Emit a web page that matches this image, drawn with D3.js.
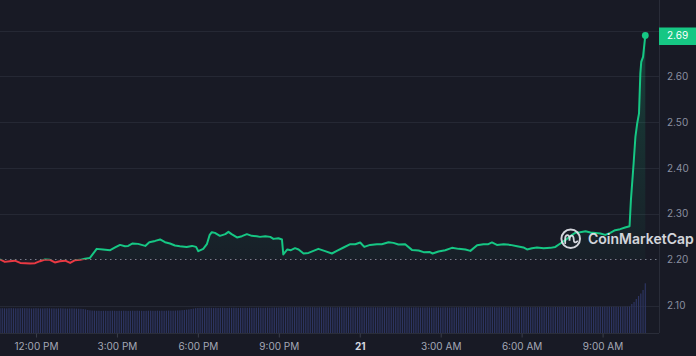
<!DOCTYPE html>
<html><head><meta charset="utf-8">
<script src="https://cdn.jsdelivr.net/npm/d3@7"></script>
<style>html,body{margin:0;padding:0;background:#181a25;} svg{display:block}</style>
</head><body><svg id="c" width="696" height="356"></svg>
<script>
// ---- data ----
const times = ["10:40","10:51","11:02","11:13","11:25","11:47","11:58","12:09","12:20","12:31","12:42","12:53","13:05","13:16","13:27","13:38","13:49","14:00","14:15","14:29","14:45","14:56","15:07","15:18","15:25","15:35","15:47","16:03","16:12","16:25","16:36","16:47","16:58","17:09","17:20","17:35","17:47","17:56","18:01","18:12","18:20","18:26","18:31","18:38","18:49","19:01","19:08","19:15","19:27","19:38","19:49","20:00","20:11","20:18","20:30","20:41","20:48","20:59","21:07","21:10","21:19","21:27","21:36","21:44","21:55","22:06","22:17","22:28","22:43","22:58","23:09","23:24","23:39","23:50","00:01","00:10","00:23","00:38","00:49","01:04","01:15","01:26","01:41","01:56","02:11","02:22","02:35","02:42","02:55","03:10","03:25","03:40","03:55","04:06","04:21","04:35","04:46","04:54","05:05","05:20","05:35","05:50","06:04","06:12","06:23","06:34","06:49","07:04","07:15","07:26","07:37","07:48","07:59","08:10","08:22","08:33","08:44","08:55","09:06","09:17","09:28","09:39","09:50","10:00","10:03","10:09","10:13","10:17","10:21","10:24","10:26","10:30","10:35"];
const prices = [2.2004,2.1952,2.1967,2.1978,2.1930,2.1917,2.1924,2.1967,2.2004,2.1996,2.1939,2.1967,2.1978,2.1930,2.1989,2.1996,2.2022,2.2039,2.2236,2.2223,2.2207,2.2266,2.2323,2.2295,2.2301,2.2354,2.2345,2.2301,2.2382,2.2410,2.2441,2.2382,2.2354,2.2310,2.2295,2.2279,2.2301,2.2279,2.2186,2.2236,2.2338,2.2535,2.2600,2.2585,2.2520,2.2557,2.2607,2.2557,2.2485,2.2513,2.2557,2.2520,2.2513,2.2498,2.2513,2.2498,2.2454,2.2469,2.2441,2.2114,2.2223,2.2207,2.2251,2.2223,2.2135,2.2148,2.2192,2.2236,2.2186,2.2135,2.2192,2.2266,2.2338,2.2338,2.2376,2.2279,2.2323,2.2338,2.2338,2.2382,2.2367,2.2332,2.2338,2.2214,2.2201,2.2164,2.2170,2.2135,2.2179,2.2207,2.2258,2.2236,2.2223,2.2192,2.2317,2.2338,2.2338,2.2376,2.2323,2.2338,2.2323,2.2295,2.2266,2.2223,2.2251,2.2266,2.2251,2.2258,2.2279,2.2354,2.2426,2.2513,2.2585,2.2600,2.2622,2.2594,2.2585,2.2572,2.2541,2.2585,2.2644,2.2666,2.2703,2.2731,2.3299,2.4100,2.4681,2.4974,2.5192,2.6066,2.6319,2.6428,2.6895];
// 24h volume, one bar every 5 minutes from 10:40 (millions)
const volumes = [
2.47,2.48,2.47,2.46,2.48,2.49,2.48,2.47,2.47,2.48,2.49,2.48,
2.48,2.47,2.46,2.47,2.48,2.47,2.46,2.46,2.47,2.48,2.47,2.46,
2.46,2.45,2.46,2.47,2.46,2.45,2.44,2.45,2.46,2.45,2.44,2.43,
2.42,2.40,2.36,2.30,2.26,2.24,2.23,2.22,2.22,2.21,2.22,2.22,
2.21,2.22,2.23,2.22,2.21,2.22,2.22,2.23,2.22,2.21,2.22,2.23,
2.22,2.23,2.22,2.22,2.21,2.22,2.23,2.23,2.22,2.22,2.23,2.22,
2.23,2.22,2.23,2.24,2.23,2.23,2.24,2.25,2.26,2.28,2.30,2.33,
2.36,2.40,2.44,2.48,2.50,2.51,2.52,2.53,2.52,2.53,2.52,2.51,
2.52,2.51,2.52,2.53,2.52,2.51,2.52,2.52,2.53,2.52,2.51,2.52,
2.52,2.53,2.52,2.53,2.52,2.52,2.53,2.54,2.53,2.52,2.53,2.54,
2.53,2.54,2.55,2.54,2.55,2.56,2.55,2.56,2.57,2.58,2.57,2.58,
2.57,2.58,2.57,2.56,2.57,2.58,2.57,2.58,2.57,2.56,2.57,2.58,
2.57,2.58,2.57,2.58,2.57,2.56,2.57,2.58,2.57,2.56,2.57,2.57,
2.56,2.57,2.56,2.57,2.58,2.57,2.56,2.57,2.56,2.57,2.57,2.56,
2.57,2.56,2.57,2.58,2.57,2.56,2.56,2.57,2.58,2.57,2.56,2.57,
2.56,2.57,2.56,2.55,2.56,2.57,2.56,2.55,2.56,2.56,2.57,2.56,
2.55,2.56,2.57,2.56,2.55,2.56,2.57,2.56,2.55,2.56,2.56,2.57,
2.57,2.58,2.57,2.56,2.57,2.58,2.57,2.58,2.57,2.56,2.57,2.58,
2.58,2.57,2.58,2.59,2.58,2.57,2.58,2.58,2.59,2.58,2.57,2.58,
2.58,2.59,2.58,2.57,2.58,2.59,2.58,2.59,2.58,2.58,2.59,2.58,
2.59,2.58,2.59,2.60,2.59,2.58,2.59,2.60,2.59,2.60,2.59,2.60,
2.60,2.61,2.60,2.61,2.62,2.61,2.60,2.61,2.62,2.61,2.62,2.61,
2.62,2.61,2.62,2.63,2.62,2.63,2.62,2.63,2.62,2.63,2.63,2.62,
2.63,2.63,2.64,2.64,2.65,2.90,3.10,3.40,3.70,3.95,4.30,4.97];
const yTicks = [2.10, 2.20, 2.30, 2.40, 2.50, 2.60, 2.70];
const xTickHours = ["12:00","15:00","18:00","21:00","00:00","03:00","06:00","09:00"];
const lastPriceLabel = "2.69";
const watermark = "CoinMarketCap";

// ---- helpers ----
function toDates(ts) {
  let day = 20, prev = "";
  return ts.map(t => {
    if (prev && t < prev) day++;
    prev = t;
    const [h, m] = t.split(":").map(Number);
    return new Date(2024, 10, day, h, m);
  });
}
const dates = toDates(times);
const series = dates.map((d, i) => ({ date: d, value: prices[i] }));
const volSeries = volumes.map((v, i) => ({ date: new Date(+dates[0] + i * 5 * 60000), value: v }));
const tickDates = toDates(["10:40"].concat(xTickHours)).slice(1);
const baseValue = prices[0];

const GREEN = "#16c784", RED = "#ea3943";
const plotRight = 659, plotBottom = 333;

const svg = d3.select("#c");
svg.append("rect").attr("width", 696).attr("height", 356).attr("fill", "#181a25");

const x = d3.scaleTime().domain([dates[0], dates[dates.length - 1]]).range([0, 645.3]);
const y = d3.scaleLinear().domain([2.1, 2.7]).range([305.5, 30.6]);
const yv = d3.scaleLinear().domain([0, 5]).range([plotBottom, 283]);

const defs = svg.append("defs");
const baseY = y(baseValue);
defs.append("clipPath").attr("id", "above").append("rect")
  .attr("x", 0).attr("y", 0).attr("width", plotRight).attr("height", baseY);
defs.append("clipPath").attr("id", "below").append("rect")
  .attr("x", 0).attr("y", baseY).attr("width", plotRight).attr("height", plotBottom - baseY);
const gg = defs.append("linearGradient").attr("id", "gG").attr("gradientUnits", "userSpaceOnUse")
  .attr("x1", 0).attr("x2", 0).attr("y1", y(2.7)).attr("y2", baseY);
gg.append("stop").attr("offset", 0).attr("stop-color", GREEN).attr("stop-opacity", 0.22);
gg.append("stop").attr("offset", 1).attr("stop-color", GREEN).attr("stop-opacity", 0.03);
const gr = defs.append("linearGradient").attr("id", "gR").attr("gradientUnits", "userSpaceOnUse")
  .attr("x1", 0).attr("x2", 0).attr("y1", baseY).attr("y2", baseY + 10);
gr.append("stop").attr("offset", 0).attr("stop-color", RED).attr("stop-opacity", 0.04);
gr.append("stop").attr("offset", 1).attr("stop-color", RED).attr("stop-opacity", 0.08);

// grid
svg.append("g").selectAll("line").data(yTicks.filter(t => t !== 2.20)).join("line")
  .attr("x1", 0).attr("x2", plotRight)
  .attr("y1", d => Math.round(y(d)) + 0.5).attr("y2", d => Math.round(y(d)) + 0.5)
  .attr("stroke", "#252834").attr("stroke-width", 1);
svg.append("line").attr("x1", plotRight + 0.5).attr("x2", plotRight + 0.5)
  .attr("y1", 0).attr("y2", plotBottom).attr("stroke", "#292c38");

// volume bars
svg.append("g").selectAll("rect").data(volSeries).join("rect")
  .attr("x", d => x(d.date) - 0.6).attr("width", 1.2)
  .attr("y", d => yv(d.value)).attr("height", d => plotBottom - yv(d.value))
  .attr("fill", "#2d3562");

// areas between the line and the opening price
const areaGen = d3.area().x(d => x(d.date)).y0(baseY).y1(d => y(d.value));
svg.append("path").datum(series).attr("d", areaGen).attr("fill", "url(#gG)").attr("clip-path", "url(#above)");
svg.append("path").datum(series).attr("d", areaGen).attr("fill", "url(#gR)").attr("clip-path", "url(#below)");

// baseline
svg.append("line").attr("x1", 0).attr("x2", plotRight).attr("y1", baseY).attr("y2", baseY)
  .attr("stroke", "#7a7e8c").attr("stroke-width", 1).attr("stroke-dasharray", "1.5,3.5");

// price line
const lineGen = d3.line().x(d => x(d.date)).y(d => y(d.value));
svg.append("path").datum(series).attr("d", lineGen).attr("fill", "none")
  .attr("stroke", GREEN).attr("stroke-width", 2).attr("stroke-linejoin", "round").attr("clip-path", "url(#above)");
svg.append("path").datum(series).attr("d", lineGen).attr("fill", "none")
  .attr("stroke", RED).attr("stroke-width", 2).attr("stroke-linejoin", "round").attr("clip-path", "url(#below)");
const last = series[series.length - 1];
svg.append("circle").attr("cx", x(last.date)).attr("cy", y(last.value)).attr("r", 3.4).attr("fill", GREEN);

// x axis
const xAxis = d3.axisBottom(x).tickValues(tickDates).tickSize(4).tickPadding(0)
  .tickFormat(d => d.getHours() === 0 ? String(d.getDate()) : d3.timeFormat("%-I:%M %p")(d));
const gx = svg.append("g").attr("transform", `translate(0,${plotBottom + 0.5})`).call(xAxis);
gx.select(".domain").attr("stroke", "#2a2d39").attr("d", `M0,0H${plotRight}`);
gx.selectAll(".tick line").attr("stroke", "#3a3e4b");
gx.selectAll(".tick text").attr("y", 16).attr("dy", 0)
  .attr("fill", d => d.getHours() === 0 ? "#d5d8e0" : "#a4a8b6")
  .attr("font-weight", d => d.getHours() === 0 ? 700 : 400)
  .attr("font-family", "Inter, sans-serif").attr("font-size", 10);

// y axis labels
svg.append("g").selectAll("text").data(yTicks.filter(t => t < 2.7)).join("text")
  .attr("x", 667).attr("y", d => y(d)).attr("dy", "0.35em")
  .attr("fill", "#8a8fa0").attr("font-family", "Inter, sans-serif").attr("font-size", 10)
  .text(d => d.toFixed(2));

// last price tag
svg.append("rect").attr("x", plotRight).attr("y", 27.5).attr("width", 37).attr("height", 17.5).attr("fill", GREEN);
svg.append("text").attr("x", 667).attr("y", y(last.value) + 0.5).attr("dy", "0.35em")
  .attr("fill", "#ffffff").attr("font-family", "Inter, sans-serif").attr("font-size", 10)
  .text(lastPriceLabel);

// watermark
const wm = svg.append("g").attr("opacity", 0.9);
wm.append("circle").attr("cx", 570.7).attr("cy", 238.8).attr("r", 9.3)
  .attr("fill", "none").attr("stroke", "#e8eaf0").attr("stroke-width", 2);
wm.append("path").attr("transform", "translate(570.7,238.8)")
  .attr("d", "M-5.5,4.5 L-5.5,0 C-5.5,-5 -1.2,-5 -1.2,0 L-1.2,2 C-1.2,-4.5 3,-4.5 3,0.5 C3,3.5 4.5,4.5 6.5,2.5")
  .attr("fill", "none").attr("stroke", "#e8eaf0").attr("stroke-width", 1.8).attr("stroke-linecap", "round");
wm.append("text").attr("x", 588).attr("y", 244.3).attr("fill", "#e8eaf0")
  .attr("font-family", "Inter, sans-serif").attr("font-size", 14).attr("font-weight", 600)
  .text(watermark);
</script>
</body></html>
